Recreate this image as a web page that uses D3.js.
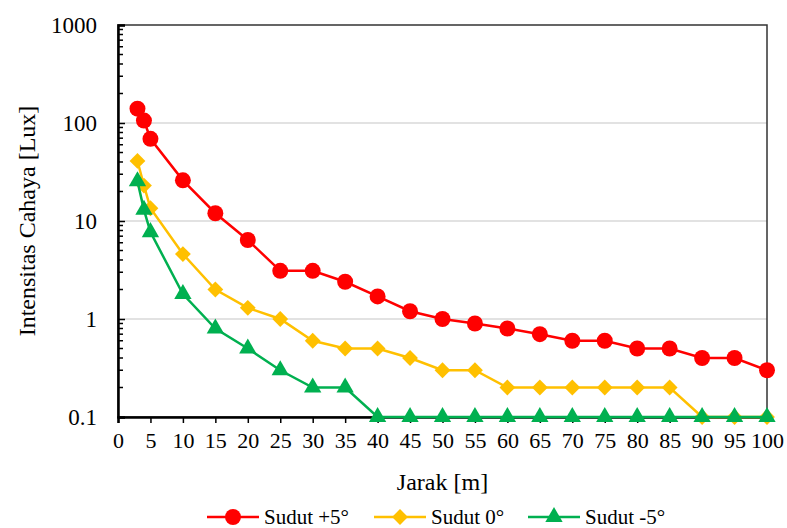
<!DOCTYPE html>
<html>
<head>
<meta charset="utf-8">
<script src="https://cdn.jsdelivr.net/npm/d3@7"></script>
<style>
  body { margin: 0; background: #fff; }
  svg text { font-family: "Liberation Serif", "Times New Roman", serif; fill: #000; }
</style>
</head>
<body>
<svg id="chart" width="787" height="528"></svg>
<script>
// data
var jarak = [3, 4, 5, 10, 15, 20, 25, 30, 35, 40, 45, 50, 55, 60, 65, 70, 75, 80, 85, 90, 95, 100];
var sudutPlus5 = [140, 106, 69, 26, 12, 6.4, 3.1, 3.1, 2.4, 1.7, 1.2, 1.0, 0.9, 0.8, 0.7, 0.6, 0.6, 0.5, 0.5, 0.4, 0.4, 0.3];
var sudutNol = [41, 23, 13.5, 4.6, 2.0, 1.3, 1.0, 0.6, 0.5, 0.5, 0.4, 0.3, 0.3, 0.2, 0.2, 0.2, 0.2, 0.2, 0.2, 0.1, 0.1, 0.1];
var sudutMin5 = [25.5, 13, 7.7, 1.8, 0.8, 0.5, 0.3, 0.2, 0.2, 0.1, 0.1, 0.1, 0.1, 0.1, 0.1, 0.1, 0.1, 0.1, 0.1, 0.1, 0.1, 0.1];
var xTicks = d3.range(0, 101, 5);
var yTicks = [0.1, 1, 10, 100, 1000];

var serif = '"Liberation Serif", "Times New Roman", serif';

// diamond = square turned 45 degrees, so width equals height
var series = [
  { name: 'Sudut +5°', values: sudutPlus5, color: '#FF0000', symbol: d3.symbolCircle, size: 200, rot: 0 },
  { name: 'Sudut 0°', values: sudutNol, color: '#FFC000', symbol: d3.symbolSquare, size: 125, rot: 45 },
  { name: 'Sudut -5°', values: sudutMin5, color: '#00B050', symbol: d3.symbolTriangle, size: 130, rot: 0 }
];

var plotL = 118, plotR = 767, plotT = 25, plotB = 417;
var svg = d3.select('#chart');

var x = d3.scaleLinear().domain([0, 100]).range([plotL, plotR]);
var y = d3.scaleLog().domain([0.1, 1000]).range([plotB, plotT]);

// gridlines at major decades
svg.append('g')
  .selectAll('line')
  .data(yTicks.slice(1, -1))
  .enter()
  .append('line')
  .attr('x1', plotL)
  .attr('x2', plotR)
  .attr('y1', y)
  .attr('y2', y)
  .attr('stroke', '#d9d9d9')
  .attr('stroke-width', 1.5);

// plot area border
svg.append('rect')
  .attr('x', plotL)
  .attr('y', plotT)
  .attr('width', plotR - plotL)
  .attr('height', plotB - plotT)
  .attr('fill', 'none')
  .attr('stroke', '#333')
  .attr('stroke-width', 1.5);

// minor ticks on the log axis, pointing inward
var minor = [];
[0.1, 1, 10, 100].forEach(function (d) {
  for (var k = 2; k <= 9; k++) minor.push(d * k);
});
svg.append('g')
  .selectAll('line')
  .data(minor)
  .enter()
  .append('line')
  .attr('x1', plotL)
  .attr('x2', plotL + 5)
  .attr('y1', y)
  .attr('y2', y)
  .attr('stroke', '#000')
  .attr('stroke-width', 1.5);

var yAxis = svg.append('g')
  .attr('transform', 'translate(' + plotL + ',0)')
  .call(d3.axisRight(y).tickValues(yTicks).tickSize(7).tickFormat(''));
yAxis.select('.domain').attr('stroke-width', 2.5);
yAxis.selectAll('.tick line').attr('stroke-width', 1.5);

svg.append('g')
  .selectAll('text')
  .data(yTicks)
  .enter()
  .append('text')
  .attr('x', plotL - 21)
  .attr('y', y)
  .attr('dy', '0.35em')
  .attr('text-anchor', 'end')
  .style('font-family', serif)
  .style('font-size', '23px')
  .text(function (d) { return d; });

var xAxis = svg.append('g')
  .attr('transform', 'translate(0,' + plotB + ')')
  .call(d3.axisBottom(x).tickValues(xTicks).tickSize(6).tickPadding(9));
xAxis.select('.domain').attr('stroke-width', 2.5);
xAxis.selectAll('.tick line').attr('stroke-width', 1.5);
xAxis.selectAll('.tick text')
  .style('font-family', serif)
  .style('font-size', '22px');

// series: lines then markers
var line = d3.line()
  .x(function (d) { return x(d[0]); })
  .y(function (d) { return y(d[1]); });

series.forEach(function (s) {
  var pts = jarak.map(function (j, i) { return [j, s.values[i]]; });
  var g = svg.append('g');
  g.append('path')
    .datum(pts)
    .attr('d', line)
    .attr('fill', 'none')
    .attr('stroke', s.color)
    .attr('stroke-width', 2.5);
  g.selectAll('path.mark')
    .data(pts)
    .enter()
    .append('path')
    .attr('class', 'mark')
    .attr('d', d3.symbol().type(s.symbol).size(s.size))
    .attr('transform', function (d) {
      return 'translate(' + x(d[0]) + ',' + y(d[1]) + ') rotate(' + s.rot + ')';
    })
    .attr('fill', s.color);
});

// axis titles
svg.append('text')
  .attr('x', (plotL + plotR) / 2)
  .attr('y', 490)
  .attr('text-anchor', 'middle')
  .style('font-family', serif)
  .style('font-size', '24px')
  .text('Jarak [m]');

svg.append('text')
  .attr('transform', 'translate(35,' + ((plotT + plotB) / 2) + ') rotate(-90)')
  .attr('text-anchor', 'middle')
  .style('font-family', serif)
  .style('font-size', '24px')
  .text('Intensitas Cahaya [Lux]');

// legend
var legendX = [207, 374, 528];
var legend = svg.append('g')
  .selectAll('g')
  .data(series)
  .enter()
  .append('g')
  .attr('transform', function (d, i) { return 'translate(' + legendX[i] + ',517)'; });
legend.append('line')
  .attr('x1', 0)
  .attr('x2', 52)
  .attr('stroke', function (d) { return d.color; })
  .attr('stroke-width', 2.5);
legend.append('path')
  .attr('d', function (d) { return d3.symbol().type(d.symbol).size(d.size)(); })
  .attr('transform', function (d) { return 'translate(26,0) rotate(' + d.rot + ')'; })
  .attr('fill', function (d) { return d.color; });
legend.append('text')
  .attr('x', 57)
  .attr('dy', '0.35em')
  .style('font-family', serif)
  .style('font-size', '21px')
  .text(function (d) { return d.name; });
</script>
</body>
</html>
